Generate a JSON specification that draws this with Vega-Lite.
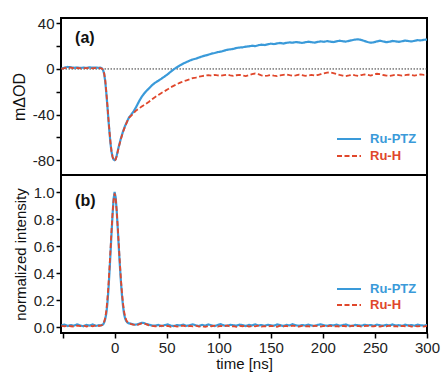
{
"$schema": "https://vega.github.io/schema/vega-lite/v6.json",
"padding": {"left": 10, "top": 15, "right": 0, "bottom": 0},
"background": "white",
"config": {
  "font": "Liberation Sans",
  "view": {"stroke": "black", "strokeWidth": 2},
  "axis": {"domain": false, "grid": false, "tickColor": "black", "tickWidth": 1.5, "tickSize": 5, "labelFontSize": 15, "labelColor": "#222", "labelPadding": 2, "labelOverlap": false, "titleFontSize": 15, "titleFontWeight": "normal", "titleColor": "#111", "labelFont": "Liberation Sans", "titleFont": "Liberation Sans"}
},
"datasets": {
"top": [
{"t":-51,"Ru-PTZ":0.3,"Ru-H":0.1},{"t":-48,"Ru-PTZ":1.2,"Ru-H":0.8},{"t":-45,"Ru-PTZ":1.8,"Ru-H":1.3},{"t":-42,"Ru-PTZ":1.5,"Ru-H":1.1},{"t":-39,"Ru-PTZ":1.0,"Ru-H":0.6},{"t":-36,"Ru-PTZ":1.3,"Ru-H":0.9},{"t":-33,"Ru-PTZ":0.9,"Ru-H":0.5},{"t":-30,"Ru-PTZ":1.2,"Ru-H":0.8},{"t":-27,"Ru-PTZ":1.0,"Ru-H":0.7},{"t":-24,"Ru-PTZ":1.4,"Ru-H":1.0},{"t":-21,"Ru-PTZ":1.1,"Ru-H":0.6},{"t":-18,"Ru-PTZ":1.3,"Ru-H":0.9},{"t":-15,"Ru-PTZ":1.0,"Ru-H":0.7},
{"t":-14,"Ru-PTZ":1.2,"Ru-H":0.8},{"t":-13,"Ru-PTZ":0.9,"Ru-H":0.6},{"t":-12,"Ru-PTZ":0.3,"Ru-H":0.2},{"t":-11,"Ru-PTZ":-1.2,"Ru-H":-1.0},{"t":-10,"Ru-PTZ":-4.5,"Ru-H":-4.0},{"t":-9,"Ru-PTZ":-11,"Ru-H":-10},{"t":-8,"Ru-PTZ":-21,"Ru-H":-20},{"t":-7,"Ru-PTZ":-32,"Ru-H":-31},{"t":-6,"Ru-PTZ":-44,"Ru-H":-43},{"t":-5,"Ru-PTZ":-55,"Ru-H":-54},{"t":-4,"Ru-PTZ":-65,"Ru-H":-64},{"t":-3,"Ru-PTZ":-72.5,"Ru-H":-72},{"t":-2,"Ru-PTZ":-77,"Ru-H":-77},{"t":-1,"Ru-PTZ":-79.5,"Ru-H":-79.5},{"t":0,"Ru-PTZ":-80,"Ru-H":-80.5},{"t":1,"Ru-PTZ":-79,"Ru-H":-79.5},{"t":2,"Ru-PTZ":-76,"Ru-H":-76.5},{"t":3,"Ru-PTZ":-72,"Ru-H":-72.5},{"t":4,"Ru-PTZ":-68,"Ru-H":-68.5},{"t":5,"Ru-PTZ":-64.5,"Ru-H":-65},{"t":6,"Ru-PTZ":-61,"Ru-H":-61.5},{"t":7,"Ru-PTZ":-58,"Ru-H":-58.5},{"t":8,"Ru-PTZ":-55,"Ru-H":-55.5},{"t":9,"Ru-PTZ":-52.5,"Ru-H":-53},{"t":10,"Ru-PTZ":-50,"Ru-H":-50.5},{"t":11,"Ru-PTZ":-48,"Ru-H":-48.3},{"t":12,"Ru-PTZ":-46,"Ru-H":-46.2},{"t":13,"Ru-PTZ":-44,"Ru-H":-44.3},{"t":14,"Ru-PTZ":-42.3,"Ru-H":-42.6},
{"t":16,"Ru-PTZ":-40,"Ru-H":-41},{"t":18,"Ru-PTZ":-37.5,"Ru-H":-39},{"t":20,"Ru-PTZ":-34.5,"Ru-H":-37},{"t":22,"Ru-PTZ":-31,"Ru-H":-35.5},{"t":24,"Ru-PTZ":-27.5,"Ru-H":-34.3},{"t":26,"Ru-PTZ":-24.5,"Ru-H":-33},{"t":28,"Ru-PTZ":-22,"Ru-H":-31.8},{"t":30,"Ru-PTZ":-19.8,"Ru-H":-30.6},
{"t":33,"Ru-PTZ":-17,"Ru-H":-28.8},{"t":36,"Ru-PTZ":-14.2,"Ru-H":-26.5},{"t":39,"Ru-PTZ":-12,"Ru-H":-24.6},{"t":42,"Ru-PTZ":-10.3,"Ru-H":-22.8},{"t":45,"Ru-PTZ":-8.5,"Ru-H":-21},{"t":48,"Ru-PTZ":-6.6,"Ru-H":-19.5},{"t":51,"Ru-PTZ":-4.6,"Ru-H":-17.8},{"t":54,"Ru-PTZ":-2.3,"Ru-H":-16},{"t":57,"Ru-PTZ":-0.2,"Ru-H":-14.6},{"t":60,"Ru-PTZ":1.6,"Ru-H":-13.3},{"t":63,"Ru-PTZ":3.3,"Ru-H":-12},{"t":66,"Ru-PTZ":4.8,"Ru-H":-10.8},{"t":69,"Ru-PTZ":6.0,"Ru-H":-10},{"t":72,"Ru-PTZ":7.3,"Ru-H":-9},{"t":75,"Ru-PTZ":8.3,"Ru-H":-8},{"t":78,"Ru-PTZ":9.0,"Ru-H":-7.6},{"t":81,"Ru-PTZ":10.0,"Ru-H":-6.8},{"t":84,"Ru-PTZ":11.0,"Ru-H":-6.2},{"t":87,"Ru-PTZ":11.8,"Ru-H":-5.8},{"t":90,"Ru-PTZ":12.5,"Ru-H":-5.4},
{"t":93,"Ru-PTZ":13.4,"Ru-H":-5.9},{"t":96,"Ru-PTZ":14.0,"Ru-H":-5.2},{"t":99,"Ru-PTZ":14.8,"Ru-H":-5.6},{"t":102,"Ru-PTZ":15.2,"Ru-H":-6.0},{"t":105,"Ru-PTZ":16.0,"Ru-H":-5.4},{"t":108,"Ru-PTZ":16.8,"Ru-H":-5.0},{"t":111,"Ru-PTZ":17.2,"Ru-H":-5.6},{"t":114,"Ru-PTZ":17.6,"Ru-H":-6.1},{"t":117,"Ru-PTZ":18.4,"Ru-H":-5.5},{"t":120,"Ru-PTZ":18.8,"Ru-H":-5.2},{"t":123,"Ru-PTZ":19.0,"Ru-H":-5.8},{"t":126,"Ru-PTZ":19.6,"Ru-H":-6.2},{"t":129,"Ru-PTZ":19.8,"Ru-H":-5.4},{"t":132,"Ru-PTZ":20.4,"Ru-H":-4.5},{"t":135,"Ru-PTZ":20.0,"Ru-H":-4.0},{"t":138,"Ru-PTZ":20.8,"Ru-H":-4.6},{"t":141,"Ru-PTZ":21.3,"Ru-H":-5.6},{"t":144,"Ru-PTZ":21.0,"Ru-H":-6.2},{"t":147,"Ru-PTZ":21.6,"Ru-H":-5.8},{"t":150,"Ru-PTZ":22.2,"Ru-H":-5.3},{"t":153,"Ru-PTZ":21.8,"Ru-H":-5.9},{"t":156,"Ru-PTZ":22.4,"Ru-H":-6.3},{"t":159,"Ru-PTZ":22.8,"Ru-H":-5.7},{"t":162,"Ru-PTZ":22.3,"Ru-H":-5.1},{"t":165,"Ru-PTZ":22.9,"Ru-H":-4.7},{"t":168,"Ru-PTZ":23.3,"Ru-H":-5.4},{"t":171,"Ru-PTZ":23.0,"Ru-H":-6.0},{"t":174,"Ru-PTZ":23.6,"Ru-H":-5.6},{"t":177,"Ru-PTZ":23.3,"Ru-H":-5.0},{"t":180,"Ru-PTZ":22.8,"Ru-H":-5.5},{"t":183,"Ru-PTZ":23.4,"Ru-H":-6.1},{"t":186,"Ru-PTZ":23.9,"Ru-H":-5.7},{"t":189,"Ru-PTZ":23.5,"Ru-H":-5.2},{"t":192,"Ru-PTZ":23.1,"Ru-H":-5.8},{"t":195,"Ru-PTZ":23.7,"Ru-H":-5.3},{"t":198,"Ru-PTZ":24.2,"Ru-H":-4.6},{"t":201,"Ru-PTZ":23.8,"Ru-H":-3.9},{"t":204,"Ru-PTZ":24.4,"Ru-H":-3.2},{"t":207,"Ru-PTZ":24.0,"Ru-H":-3.0},{"t":210,"Ru-PTZ":23.6,"Ru-H":-3.6},{"t":213,"Ru-PTZ":24.2,"Ru-H":-4.4},{"t":216,"Ru-PTZ":24.8,"Ru-H":-5.2},{"t":219,"Ru-PTZ":24.3,"Ru-H":-5.8},{"t":222,"Ru-PTZ":24.0,"Ru-H":-6.2},{"t":225,"Ru-PTZ":24.6,"Ru-H":-5.7},{"t":228,"Ru-PTZ":25.2,"Ru-H":-5.1},{"t":231,"Ru-PTZ":25.8,"Ru-H":-5.6},{"t":234,"Ru-PTZ":26.0,"Ru-H":-6.0},{"t":237,"Ru-PTZ":25.4,"Ru-H":-5.3},{"t":240,"Ru-PTZ":24.5,"Ru-H":-4.8},{"t":243,"Ru-PTZ":23.6,"Ru-H":-5.2},{"t":246,"Ru-PTZ":23.0,"Ru-H":-5.8},{"t":249,"Ru-PTZ":23.4,"Ru-H":-4.9},{"t":252,"Ru-PTZ":24.2,"Ru-H":-4.2},{"t":255,"Ru-PTZ":24.8,"Ru-H":-4.6},{"t":258,"Ru-PTZ":24.1,"Ru-H":-5.3},{"t":261,"Ru-PTZ":23.5,"Ru-H":-5.8},{"t":264,"Ru-PTZ":23.9,"Ru-H":-6.2},{"t":267,"Ru-PTZ":24.6,"Ru-H":-5.6},{"t":270,"Ru-PTZ":24.2,"Ru-H":-5.0},{"t":273,"Ru-PTZ":23.8,"Ru-H":-5.4},{"t":276,"Ru-PTZ":24.3,"Ru-H":-5.9},{"t":279,"Ru-PTZ":24.9,"Ru-H":-5.5},{"t":282,"Ru-PTZ":24.5,"Ru-H":-4.9},{"t":285,"Ru-PTZ":24.1,"Ru-H":-5.3},{"t":288,"Ru-PTZ":24.7,"Ru-H":-5.8},{"t":291,"Ru-PTZ":25.3,"Ru-H":-5.4},{"t":294,"Ru-PTZ":25.0,"Ru-H":-4.8},{"t":297,"Ru-PTZ":25.6,"Ru-H":-5.2},{"t":300,"Ru-PTZ":25.8,"Ru-H":-5.0}
],
"bot": [
{"t":-51,"Ru-PTZ":0.012,"Ru-H":0.008},{"t":-48,"Ru-PTZ":0.018,"Ru-H":0.005},{"t":-45,"Ru-PTZ":0.008,"Ru-H":0.012},{"t":-42,"Ru-PTZ":0.015,"Ru-H":0.006},{"t":-39,"Ru-PTZ":0.010,"Ru-H":0.004},{"t":-36,"Ru-PTZ":0.020,"Ru-H":0.010},{"t":-33,"Ru-PTZ":0.012,"Ru-H":0.007},{"t":-30,"Ru-PTZ":0.006,"Ru-H":0.012},{"t":-27,"Ru-PTZ":0.016,"Ru-H":0.003},{"t":-24,"Ru-PTZ":0.011,"Ru-H":0.009},{"t":-21,"Ru-PTZ":0.019,"Ru-H":0.006},{"t":-18,"Ru-PTZ":0.009,"Ru-H":0.014},{"t":-15,"Ru-PTZ":0.014,"Ru-H":0.008},
{"t":-14,"Ru-PTZ":0.012,"Ru-H":0.010},{"t":-13,"Ru-PTZ":0.013,"Ru-H":0.012},{"t":-12,"Ru-PTZ":0.016,"Ru-H":0.015},{"t":-11,"Ru-PTZ":0.020,"Ru-H":0.022},{"t":-10,"Ru-PTZ":0.035,"Ru-H":0.040},{"t":-9,"Ru-PTZ":0.060,"Ru-H":0.070},{"t":-8,"Ru-PTZ":0.10,"Ru-H":0.12},{"t":-7,"Ru-PTZ":0.17,"Ru-H":0.20},{"t":-6,"Ru-PTZ":0.27,"Ru-H":0.30},{"t":-5,"Ru-PTZ":0.40,"Ru-H":0.43},{"t":-4,"Ru-PTZ":0.54,"Ru-H":0.57},{"t":-3,"Ru-PTZ":0.69,"Ru-H":0.71},{"t":-2,"Ru-PTZ":0.83,"Ru-H":0.84},{"t":-1,"Ru-PTZ":0.95,"Ru-H":0.94},{"t":0,"Ru-PTZ":1.0,"Ru-H":0.99},{"t":1,"Ru-PTZ":0.96,"Ru-H":0.95},{"t":2,"Ru-PTZ":0.86,"Ru-H":0.86},{"t":3,"Ru-PTZ":0.73,"Ru-H":0.74},{"t":4,"Ru-PTZ":0.59,"Ru-H":0.61},{"t":5,"Ru-PTZ":0.46,"Ru-H":0.48},{"t":6,"Ru-PTZ":0.34,"Ru-H":0.36},{"t":7,"Ru-PTZ":0.24,"Ru-H":0.26},{"t":8,"Ru-PTZ":0.16,"Ru-H":0.18},{"t":9,"Ru-PTZ":0.10,"Ru-H":0.12},{"t":10,"Ru-PTZ":0.066,"Ru-H":0.08},{"t":11,"Ru-PTZ":0.046,"Ru-H":0.055},{"t":12,"Ru-PTZ":0.036,"Ru-H":0.04},{"t":13,"Ru-PTZ":0.030,"Ru-H":0.032},{"t":14,"Ru-PTZ":0.027,"Ru-H":0.028},
{"t":16,"Ru-PTZ":0.024,"Ru-H":0.022},{"t":18,"Ru-PTZ":0.020,"Ru-H":0.018},{"t":20,"Ru-PTZ":0.018,"Ru-H":0.016},{"t":22,"Ru-PTZ":0.020,"Ru-H":0.017},{"t":24,"Ru-PTZ":0.026,"Ru-H":0.022},{"t":26,"Ru-PTZ":0.031,"Ru-H":0.027},{"t":28,"Ru-PTZ":0.030,"Ru-H":0.028},{"t":30,"Ru-PTZ":0.024,"Ru-H":0.022},
{"t":33,"Ru-PTZ":0.017,"Ru-H":0.012},{"t":36,"Ru-PTZ":0.012,"Ru-H":0.008},{"t":39,"Ru-PTZ":0.010,"Ru-H":0.006},{"t":42,"Ru-PTZ":0.016,"Ru-H":0.003},{"t":45,"Ru-PTZ":0.008,"Ru-H":0.010},{"t":48,"Ru-PTZ":0.014,"Ru-H":0.005},{"t":51,"Ru-PTZ":0.019,"Ru-H":0.008},{"t":54,"Ru-PTZ":0.011,"Ru-H":0.002},{"t":57,"Ru-PTZ":0.007,"Ru-H":0.009},{"t":60,"Ru-PTZ":0.015,"Ru-H":0.004},{"t":63,"Ru-PTZ":0.012,"Ru-H":0.007},{"t":66,"Ru-PTZ":0.018,"Ru-H":0.011},{"t":69,"Ru-PTZ":0.009,"Ru-H":0.003},{"t":72,"Ru-PTZ":0.013,"Ru-H":0.008},{"t":75,"Ru-PTZ":0.020,"Ru-H":0.005},{"t":78,"Ru-PTZ":0.012,"Ru-H":0.010},{"t":81,"Ru-PTZ":0.008,"Ru-H":0.004},{"t":84,"Ru-PTZ":0.016,"Ru-H":0.007},{"t":87,"Ru-PTZ":0.011,"Ru-H":0.002},{"t":90,"Ru-PTZ":0.019,"Ru-H":0.009},{"t":93,"Ru-PTZ":0.013,"Ru-H":0.006},{"t":96,"Ru-PTZ":0.007,"Ru-H":0.011},{"t":99,"Ru-PTZ":0.015,"Ru-H":0.003},{"t":102,"Ru-PTZ":0.021,"Ru-H":0.008},{"t":105,"Ru-PTZ":0.012,"Ru-H":0.005},{"t":108,"Ru-PTZ":0.009,"Ru-H":0.012},{"t":111,"Ru-PTZ":0.017,"Ru-H":0.004},{"t":114,"Ru-PTZ":0.013,"Ru-H":0.007},{"t":117,"Ru-PTZ":0.010,"Ru-H":0.002},{"t":120,"Ru-PTZ":0.018,"Ru-H":0.009},{"t":123,"Ru-PTZ":0.014,"Ru-H":0.006},{"t":126,"Ru-PTZ":0.008,"Ru-H":0.010},{"t":129,"Ru-PTZ":0.016,"Ru-H":0.003},{"t":132,"Ru-PTZ":0.012,"Ru-H":0.008},{"t":135,"Ru-PTZ":0.020,"Ru-H":0.005},{"t":138,"Ru-PTZ":0.011,"Ru-H":0.011},{"t":141,"Ru-PTZ":0.015,"Ru-H":0.004},{"t":144,"Ru-PTZ":0.009,"Ru-H":0.007},{"t":147,"Ru-PTZ":0.017,"Ru-H":0.003},{"t":150,"Ru-PTZ":0.013,"Ru-H":0.009},{"t":153,"Ru-PTZ":0.010,"Ru-H":0.006},{"t":156,"Ru-PTZ":0.019,"Ru-H":0.002},{"t":159,"Ru-PTZ":0.014,"Ru-H":0.010},{"t":162,"Ru-PTZ":0.008,"Ru-H":0.005},{"t":165,"Ru-PTZ":0.016,"Ru-H":0.008},{"t":168,"Ru-PTZ":0.012,"Ru-H":0.004},{"t":171,"Ru-PTZ":0.021,"Ru-H":0.011},{"t":174,"Ru-PTZ":0.013,"Ru-H":0.006},{"t":177,"Ru-PTZ":0.009,"Ru-H":0.003},{"t":180,"Ru-PTZ":0.015,"Ru-H":0.009},{"t":183,"Ru-PTZ":0.011,"Ru-H":0.005},{"t":186,"Ru-PTZ":0.018,"Ru-H":0.007},{"t":189,"Ru-PTZ":0.012,"Ru-H":0.002},{"t":192,"Ru-PTZ":0.008,"Ru-H":0.010},{"t":195,"Ru-PTZ":0.016,"Ru-H":0.006},{"t":198,"Ru-PTZ":0.020,"Ru-H":0.004},{"t":201,"Ru-PTZ":0.013,"Ru-H":0.009},{"t":204,"Ru-PTZ":0.009,"Ru-H":0.005},{"t":207,"Ru-PTZ":0.015,"Ru-H":0.011},{"t":210,"Ru-PTZ":0.012,"Ru-H":0.003},{"t":213,"Ru-PTZ":0.018,"Ru-H":0.007},{"t":216,"Ru-PTZ":0.010,"Ru-H":0.004},{"t":219,"Ru-PTZ":0.014,"Ru-H":0.009},{"t":222,"Ru-PTZ":0.019,"Ru-H":0.006},{"t":225,"Ru-PTZ":0.011,"Ru-H":0.002},{"t":228,"Ru-PTZ":0.008,"Ru-H":0.010},{"t":231,"Ru-PTZ":0.016,"Ru-H":0.005},{"t":234,"Ru-PTZ":0.013,"Ru-H":0.008},{"t":237,"Ru-PTZ":0.010,"Ru-H":0.003},{"t":240,"Ru-PTZ":0.017,"Ru-H":0.007},{"t":243,"Ru-PTZ":0.012,"Ru-H":0.011},{"t":246,"Ru-PTZ":0.015,"Ru-H":0.004},{"t":249,"Ru-PTZ":0.009,"Ru-H":0.006},{"t":252,"Ru-PTZ":0.018,"Ru-H":0.009},{"t":255,"Ru-PTZ":0.013,"Ru-H":0.003},{"t":258,"Ru-PTZ":0.010,"Ru-H":0.008},{"t":261,"Ru-PTZ":0.016,"Ru-H":0.005},{"t":264,"Ru-PTZ":0.012,"Ru-H":0.010},{"t":267,"Ru-PTZ":0.019,"Ru-H":0.004},{"t":270,"Ru-PTZ":0.011,"Ru-H":0.007},{"t":273,"Ru-PTZ":0.014,"Ru-H":0.002},{"t":276,"Ru-PTZ":0.009,"Ru-H":0.009},{"t":279,"Ru-PTZ":0.017,"Ru-H":0.006},{"t":282,"Ru-PTZ":0.012,"Ru-H":0.011},{"t":285,"Ru-PTZ":0.015,"Ru-H":0.004},{"t":288,"Ru-PTZ":0.010,"Ru-H":0.008},{"t":291,"Ru-PTZ":0.018,"Ru-H":0.005},{"t":294,"Ru-PTZ":0.013,"Ru-H":0.007},{"t":297,"Ru-PTZ":0.011,"Ru-H":0.003},{"t":300,"Ru-PTZ":0.015,"Ru-H":0.009}
]
},
"spacing": 0,
"bounds": "flush",
"resolve": {"legend": {"color": "independent", "strokeDash": "independent"}},
"vconcat": [
{
  "width": 366, "height": 157,
  "layer": [
    {"data": {"values": [{}]}, "mark": {"type": "rule", "strokeDash": [1.5, 1.5], "color": "#333", "strokeWidth": 1}, "encoding": {"y": {"datum": 0, "type": "quantitative"}}},
    {"data": {"name": "top"}, "transform": [{"fold": ["Ru-PTZ", "Ru-H"], "as": ["s", "v"]}, {"filter": "datum.s === 'Ru-PTZ'"}],
     "mark": {"type": "line", "strokeWidth": 2.2, "clip": true},
     "encoding": {
       "x": {"field": "t", "type": "quantitative", "scale": {"domain": [-51.5, 300], "nice": false, "zero": false}, "axis": null},
       "y": {"field": "v", "type": "quantitative", "scale": {"domain": [-93, 44.7], "nice": false, "zero": false},
             "axis": {"values": [-80, -60, -40, -20, 0, 20, 40], "tickCount": 20, "labelExpr": "datum.value % 40 === 0 ? '' + datum.value : ''", "labelOverlap": false, "title": "mΔOD", "titlePadding": 5, "titleFontSize": 16}},
       "color": {"field": "s", "type": "nominal", "scale": {"domain": ["Ru-PTZ", "Ru-H"], "range": ["#3a9ad9", "#e0472b"]},
                 "legend": {"title": null, "orient": "none", "legendX": 281, "legendY": 114, "symbolType": "M-2,0H2", "symbolSize": 144, "symbolStrokeWidth": 2, "labelFontSize": 13, "labelFontWeight": "bold", "labelOffset": 14, "rowPadding": 3, "padding": 0, "encode": {"labels": {"update": {"fill": {"signal": "datum.value === 'Ru-PTZ' ? '#3a9ad9' : '#e0472b'"}}}}}},
       "strokeDash": {"field": "s", "type": "nominal", "scale": {"domain": ["Ru-PTZ", "Ru-H"], "range": [[1, 0], [5, 2.5]]},
                 "legend": {"title": null, "orient": "none", "legendX": 281, "legendY": 114, "symbolType": "M-2,0H2", "symbolSize": 144, "symbolStrokeWidth": 2, "labelFontSize": 13, "labelFontWeight": "bold", "labelOffset": 14, "rowPadding": 3, "padding": 0}}
     }},
    {"data": {"name": "top"}, "transform": [{"fold": ["Ru-PTZ", "Ru-H"], "as": ["s", "v"]}, {"filter": "datum.s === 'Ru-H'"}],
     "mark": {"type": "line", "strokeWidth": 1.8, "clip": true},
     "encoding": {
       "x": {"field": "t", "type": "quantitative"},
       "y": {"field": "v", "type": "quantitative"},
       "color": {"field": "s", "type": "nominal"},
       "strokeDash": {"field": "s", "type": "nominal"}
     }},
    {"data": {"values": [{}]}, "mark": {"type": "text", "text": "(a)", "align": "left", "baseline": "middle", "fontSize": 16, "fontWeight": "bold", "color": "#111"},
     "encoding": {"x": {"datum": -38, "type": "quantitative"}, "y": {"datum": 27.5, "type": "quantitative"}}}
  ]
},
{
  "width": 366, "height": 158,
  "layer": [
    {"data": {"name": "bot"}, "transform": [{"fold": ["Ru-PTZ", "Ru-H"], "as": ["s", "v"]}, {"filter": "datum.s === 'Ru-PTZ'"}],
     "mark": {"type": "line", "strokeWidth": 2.2, "clip": true},
     "encoding": {
       "x": {"field": "t", "type": "quantitative", "scale": {"domain": [-51.5, 300], "nice": false, "zero": false},
             "axis": {"values": [-50, 0, 50, 100, 150, 200, 250, 300], "tickCount": 20, "labelExpr": "datum.value < 0 ? '' : datum.label", "labelFlush": false, "labelOverlap": false, "labelPadding": 2, "title": "time [ns]", "titlePadding": 1}},
       "y": {"field": "v", "type": "quantitative", "scale": {"domain": [-0.044, 1.126], "nice": false, "zero": false},
             "axis": {"values": [0, 0.2, 0.4, 0.6, 0.8, 1.0], "tickCount": 20, "labelExpr": "format(datum.value, '.1f')", "labelOverlap": false, "labelBound": false, "title": "normalized intensity", "titlePadding": 5}},
       "color": {"field": "s", "type": "nominal", "scale": {"domain": ["Ru-PTZ", "Ru-H"], "range": ["#3a9ad9", "#e0472b"]},
                 "legend": {"title": null, "orient": "none", "legendX": 281, "legendY": 107, "symbolType": "M-2,0H2", "symbolSize": 144, "symbolStrokeWidth": 2, "labelFontSize": 13, "labelFontWeight": "bold", "labelOffset": 14, "rowPadding": 2, "padding": 0, "encode": {"labels": {"update": {"fill": {"signal": "datum.value === 'Ru-PTZ' ? '#3a9ad9' : '#e0472b'"}}}}}},
       "strokeDash": {"field": "s", "type": "nominal", "scale": {"domain": ["Ru-PTZ", "Ru-H"], "range": [[1, 0], [5, 2.5]]},
                 "legend": {"title": null, "orient": "none", "legendX": 281, "legendY": 107, "symbolType": "M-2,0H2", "symbolSize": 144, "symbolStrokeWidth": 2, "labelFontSize": 13, "labelFontWeight": "bold", "labelOffset": 14, "rowPadding": 2, "padding": 0}}
     }},
    {"data": {"name": "bot"}, "transform": [{"fold": ["Ru-PTZ", "Ru-H"], "as": ["s", "v"]}, {"filter": "datum.s === 'Ru-H'"}],
     "mark": {"type": "line", "strokeWidth": 1.8, "clip": true},
     "encoding": {
       "x": {"field": "t", "type": "quantitative"},
       "y": {"field": "v", "type": "quantitative"},
       "color": {"field": "s", "type": "nominal"},
       "strokeDash": {"field": "s", "type": "nominal"}
     }},
    {"data": {"values": [{}]}, "mark": {"type": "text", "text": "(b)", "align": "left", "baseline": "middle", "fontSize": 16, "fontWeight": "bold", "color": "#111"},
     "encoding": {"x": {"datum": -38, "type": "quantitative"}, "y": {"datum": 0.933, "type": "quantitative"}}}
  ]
}
]
}
